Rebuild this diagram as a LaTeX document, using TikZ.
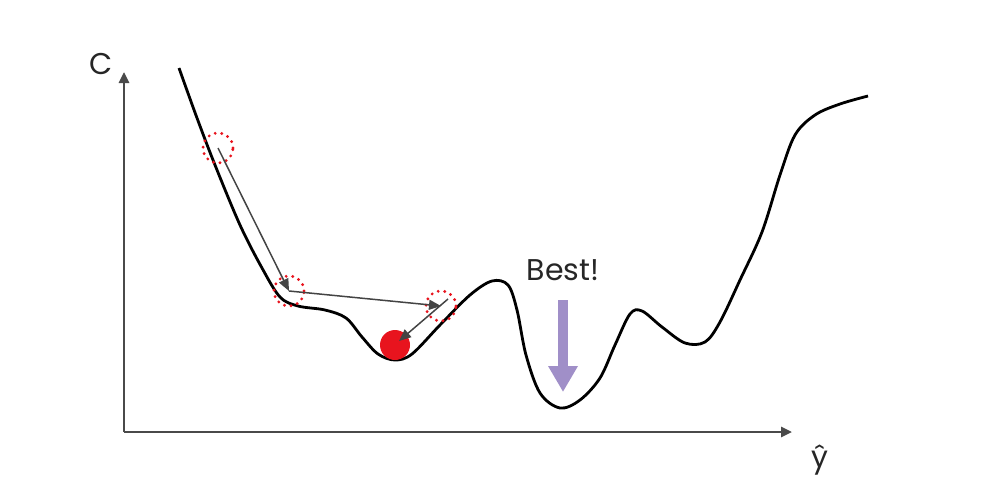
\documentclass[tikz,border=0pt]{standalone}
\usepackage{fontspec}
\setmainfont{Poppins}
\usetikzlibrary{arrows.meta}
\definecolor{axisgray}{HTML}{4A4A4A}
\definecolor{arrgray}{HTML}{444444}
\definecolor{bestpurple}{HTML}{A08FC8}
\definecolor{dotred}{HTML}{E8141E}
\begin{document}
\begin{tikzpicture}[x=1pt,y=-1pt,
  axis/.style={draw=axisgray,line width=2.6pt,-{Triangle[length=11pt,width=10pt]}},
  curve/.style={draw=black,line width=2.8pt},
  stepring/.style={circle,draw=dotred,line width=3.2pt,dash pattern=on 0pt off 6.6pt,line cap=round,minimum size=30pt,inner sep=0pt},
  ball/.style={circle,fill=dotred,minimum size=30pt,inner sep=0pt},
  move/.style={draw=arrgray,line width=1.5pt,-{Triangle[length=12pt,width=10pt]}},
  lbl/.style={font=\fontsize{30}{32}\selectfont,text=black!85}
]
\useasboundingbox (0,0) rectangle (1006,490);
\coordinate (O) at (124,432);
\coordinate (Ytop) at (124,72);
\coordinate (Xend) at (792,432);
\draw[axis] (O) -- (Ytop);
\draw[axis] (O) -- (Xend);
\node[lbl] (C) at (101,64) {C};
\node[lbl] (yhat) at (820,460) {ŷ};
\draw[curve] plot[smooth,tension=0.55] coordinates {
 (179,68) (197,118) (215,165) (240,225) (262,268) (280,297) (298,306) (325,310) (346,318)
 (362,337) (378,354) (395,360) (412,354) (440,325) (470,295) (492,281) (508,285)
 (517,310) (526,355) (540,393) (560,408) (580,400) (600,378) (615,345) (630,314)
 (642,311) (662,327) (685,343) (705,342) (720,322) (740,280) (762,232) (780,175)
 (795,135) (815,115) (840,104) (868,96)};
\node[stepring] (s1) at (218,148) {};
\node[stepring] (s2) at (289,291) {};
\node[stepring] (s3) at (441,306) {};
\node[ball] (b) at (395,345) {};
\draw[move] (s1.center) -- (s2.center);
\draw[move] (s2.center) -- (s3.center);
\draw[move] ([shift={(7,-7)}]s3.center) -- ([shift={(4,-4)}]b.center);
\node[lbl] (best) at (563,270) {Best!};
\coordinate (barr) at (563,300);
\coordinate (barrend) at (563,392);
\draw[draw=bestpurple,line width=10pt,-{Triangle[length=26pt,width=28pt]}] (barr) -- (barrend);
\end{tikzpicture}
\end{document}
